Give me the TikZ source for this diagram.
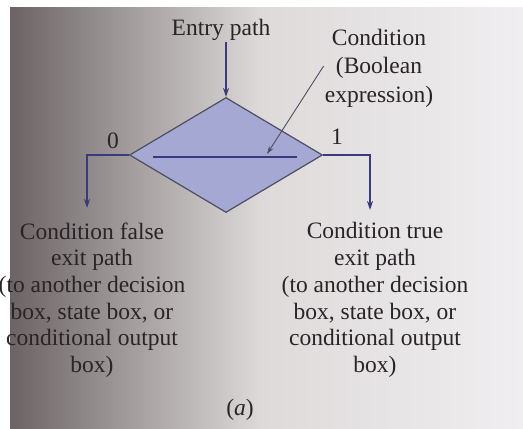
\documentclass[tikz,border=0pt]{standalone}
\usepackage{fontspec}
\setmainfont{Liberation Serif}
\usetikzlibrary{shapes.geometric,arrows.meta}
\definecolor{pagedark}{RGB}{108,100,100}
\definecolor{pagemid}{RGB}{222,218,218}
\definecolor{pagelight}{RGB}{240,238,240}
\definecolor{diafill}{RGB}{164,168,210}
\definecolor{diaedge}{RGB}{78,78,98}
\definecolor{arrowblue}{RGB}{58,58,128}
\definecolor{inktext}{RGB}{40,36,40}
\tikzset{
  txt/.style={text=inktext, font=\fontsize{23.5}{26.7}\selectfont, inner sep=1pt, align=center},
  flow/.style={draw=arrowblue, line width=1.6pt, -{Stealth[length=9pt,width=6pt]}},
  flowline/.style={draw=arrowblue, line width=1.2pt},
  pointer/.style={draw=diaedge, line width=0.9pt, -{Stealth[length=8pt,width=5pt]}},
  decision/.style={diamond, draw=diaedge, line width=1.2pt, fill=diafill, inner sep=0pt,
    minimum width=193pt, minimum height=115pt}
}
\begin{document}
\begin{tikzpicture}[x=1pt,y=-1pt]
\useasboundingbox (0,0) rectangle (523,429);
\fill[white] (0,0) rectangle (523,429);
\shade[left color=pagedark, right color=pagemid] (10,7) rectangle (262,429);
\shade[left color=pagemid, right color=pagelight] (261.5,7) rectangle (523,429);

\node[decision] (d) at (226,155) {};
\coordinate (inl) at (153,157);
\coordinate (inr) at (297,157);
\draw[flowline] (inl) -- (inr);

\node[txt] (entry) at (221,30) {Entry path};
\coordinate (entrystart) at (entry.south -| d.north);
\draw[flow] (entrystart) -- (d.north);

\node[txt, font=\fontsize{23.5}{28.5}\selectfont] (cond) at (379,68) {Condition\\(Boolean\\expression)};
\coordinate (condtip) at (267,154);
\draw[pointer] ([yshift=2pt]cond.west) -- (condtip);

\coordinate (falseend) at (87,208);
\coordinate (trueend) at (370,210);
\draw[flow] (d.west) -| (falseend);
\draw[flow] (d.east) -| (trueend);

\node[txt] (zero) at (113,141) {0};
\node[txt] (one) at (337,137) {1};

\node[txt] (falsetxt) at (92,300) {Condition false\\exit path\\(to another decision\\box, state box, or\\conditional output\\box)};
\node[txt] (truetxt) at (375,300) {Condition true\\exit path\\(to another decision\\box, state box, or\\conditional output\\box)};

\node[txt] (cap) at (240,410) {(\textit{a})};
\end{tikzpicture}
\end{document}
